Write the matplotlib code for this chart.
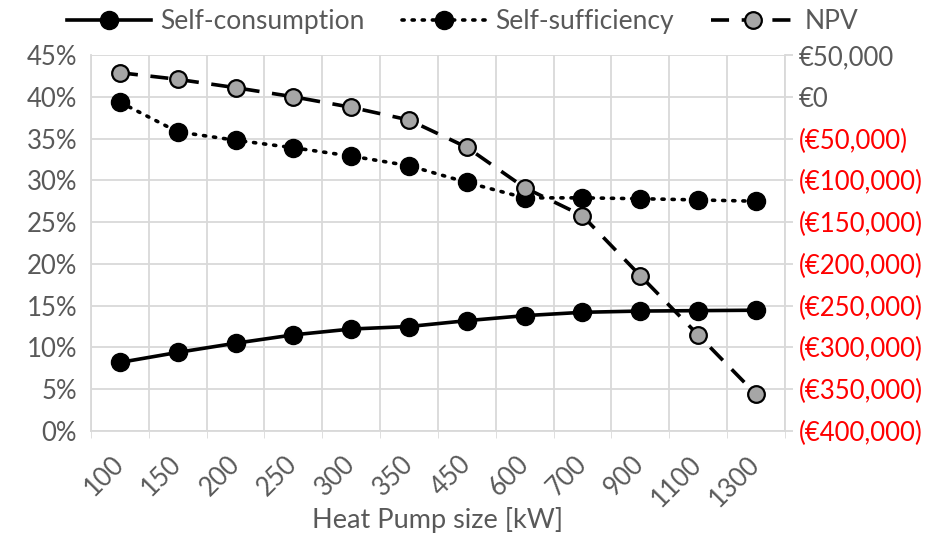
import numpy as np
import matplotlib.pyplot as plt
from matplotlib.ticker import FuncFormatter, FixedLocator
from matplotlib.lines import Line2D

plt.rcParams['font.family'] = ['Lato', 'DejaVu Sans']

# data
sizes = ["100", "150", "200", "250", "300", "350", "450", "600", "700", "900", "1100", "1300"]
self_consumption = [8.2, 9.4, 10.5, 11.5, 12.2, 12.5, 13.2, 13.8, 14.2, 14.35, 14.4, 14.45]
self_sufficiency = [39.35, 35.8, 34.8, 33.9, 32.9, 31.75, 29.75, 27.9, 27.9, 27.8, 27.65, 27.5]
npv = [28800, 20900, 10900, 0, -12600, -27800, -60500, -108800, -142400, -214200, -285100, -356000]

GREY = "#595959"
GRID = "#D9D9D9"
FS = 18.5

fig = plt.figure(figsize=(9.44, 5.34), dpi=100)
ax = fig.add_axes([0.0964, 0.193, 0.735, 0.704])
ax2 = ax.twinx()

x = np.arange(len(sizes))

ax.plot(x, self_consumption, color="black", lw=2.6, marker="o", ms=13,
        mfc="black", mec="black", label="Self-consumption", zorder=3)
ax.plot(x, self_sufficiency, color="black", lw=2.6, ls=(0, (0.6, 2.2)), dash_capstyle="round",
        marker="o", ms=13, mfc="black", mec="black", label="Self-sufficiency", zorder=3)
ax2.plot(x, npv, color="black", lw=2.6, ls=(0, (5, 3.5)), marker="o", ms=12,
         mfc="#A6A6A6", mec="black", mew=1.6, label="NPV", zorder=3)

# left axis
ax.set_xlim(-0.5, len(sizes) - 0.5)
ax.set_ylim(0, 45)
ax.set_yticks(np.arange(0, 46, 5))
ax.yaxis.set_major_formatter(FuncFormatter(lambda v, p: f"{v:.0f}%"))
ax.set_xticks(x)
ax.set_xticklabels(sizes, rotation=45, ha="right", va="center", rotation_mode="anchor")
ax.xaxis.set_minor_locator(FixedLocator(np.arange(-0.5, len(sizes), 1)))
ax.tick_params(axis="x", which="major", length=0, pad=21, labelsize=FS, colors=GREY)
ax.tick_params(axis="x", which="minor", length=5, color=GRID)
ax.tick_params(axis="y", length=0, labelsize=FS, colors=GREY, pad=10)
ax.grid(True, which="minor", axis="x", color=GRID, lw=1.3)
ax.grid(True, which="major", axis="y", color=GRID, lw=1.3)
ax.set_axisbelow(True)
for s in ["top", "right"]:
    ax.spines[s].set_visible(False)
for s in ["left", "bottom"]:
    ax.spines[s].set_color(GRID)
    ax.spines[s].set_linewidth(1.3)
ax.set_xlabel("Heat Pump size [kW]", fontsize=19.5, color=GREY, labelpad=-3)

# right axis
ax2.set_ylim(-400000, 50000)
ax2.set_yticks(np.arange(-400000, 50001, 50000))


def euro(v, p):
    if v < 0:
        return f"(€{abs(v):,.0f})"
    return f"€{v:,.0f}"


ax2.yaxis.set_major_formatter(FuncFormatter(euro))
ax2.tick_params(axis="y", length=6, color=GRID, width=1.3, labelsize=FS, pad=4)
for t, v in zip(ax2.get_yticklabels(), ax2.get_yticks()):
    t.set_color("red" if v < 0 else GREY)
for s in ["top", "left", "bottom"]:
    ax2.spines[s].set_visible(False)
ax2.spines["right"].set_color(GRID)
ax2.spines["right"].set_linewidth(1.3)

handles = [
    Line2D([], [], color="black", lw=2.6, marker="o", ms=13),
    Line2D([], [], color="black", lw=2.6, ls=(0, (0.6, 2.2)), dash_capstyle="round", marker="o", ms=13),
    Line2D([], [], color="black", lw=2.6, ls=(0, (5, 3.5)), marker="o", ms=12, mfc="#A6A6A6", mec="black", mew=1.6),
]
fig.legend(handles, ["Self-consumption", "Self-sufficiency", "NPV"], loc="center",
           bbox_to_anchor=(0.49, 0.96), ncol=3, frameon=False, fontsize=19,
           labelcolor=GREY, handlelength=3.2, columnspacing=1.4, handletextpad=0.35)

fig.savefig("out.png", dpi=100)
